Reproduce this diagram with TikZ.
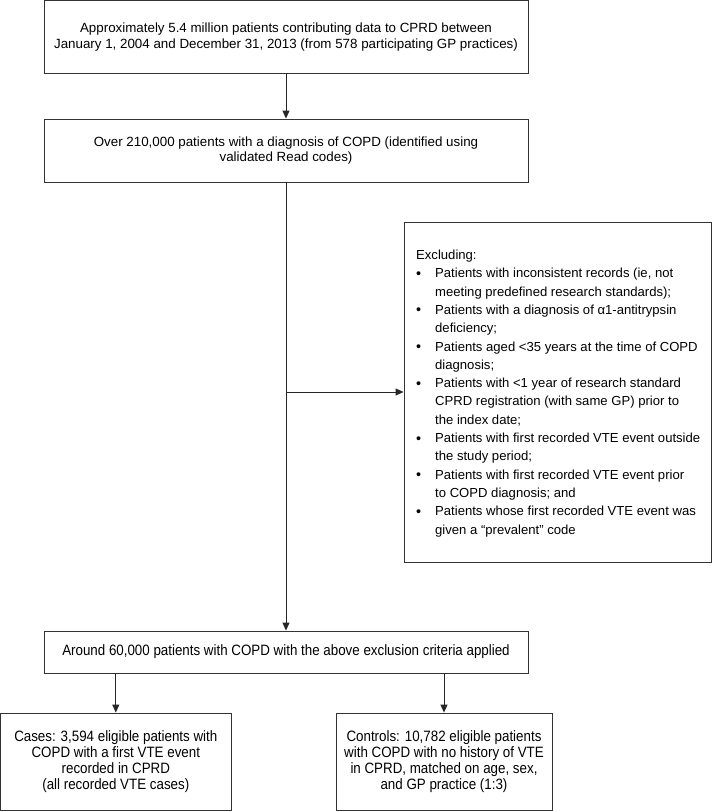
\documentclass[tikz,border=0pt]{standalone}
\usepackage{fontspec}
\setmainfont{Liberation Sans}
\newfontfamily\narrowfont[FakeStretch=0.89]{Liberation Sans}
\usetikzlibrary{arrows.meta}
\tikzset{
  box/.style={draw=black!80, line width=0.9pt, inner sep=0pt, align=center},
  arr/.style={draw=black!85, line width=0.9pt, -{Triangle[length=8pt,width=7pt]}},
  toptext/.style={font=\fontsize{13.35}{15.5}\selectfont},
  bottext/.style={font=\narrowfont\fontsize{15}{16}\selectfont},
}
\begin{document}
\begin{tikzpicture}[x=1pt,y=1pt]
\useasboundingbox (0,0) rectangle (712,-811);
% top boxes
\node[box, toptext, minimum width=484pt, minimum height=72.4pt] (b1) at (286,-36.8)
  {Approximately 5.4 million patients contributing data to CPRD between\\January 1, 2004 and December 31, 2013 (from 578 participating GP practices)};
\node[box, toptext, minimum width=484pt, minimum height=63pt] (b2) at (286,-150.5)
  {Over 210,000 patients with a diagnosis of COPD (identified using\\validated Read codes)};
% exclusion box
\node[draw=black!80, line width=0.9pt, minimum width=307pt, minimum height=340pt, inner sep=0pt] (ex) at (557.5,-392) {};
\node[anchor=north west, inner sep=0pt, font=\fontsize{13.1}{18.3}\selectfont] (extext) at (416,-246.5) {%
\begin{tabular}{@{}p{19pt}@{}l@{}}
\multicolumn{2}{@{}l}{Excluding:}\\
{\Large\raisebox{-0.5pt}{•}} & Patients with inconsistent records (ie, not\\
 & meeting predefined research standards);\\
{\Large\raisebox{-0.5pt}{•}} & Patients with a diagnosis of α1-antitrypsin\\
 & deficiency;\\
{\Large\raisebox{-0.5pt}{•}} & Patients aged <35 years at the time of COPD\\
 & diagnosis;\\
{\Large\raisebox{-0.5pt}{•}} & Patients with <1 year of research standard\\
 & CPRD registration (with same GP) prior to\\
 & the index date;\\
{\Large\raisebox{-0.5pt}{•}} & Patients with first recorded VTE event outside\\
 & the study period;\\
{\Large\raisebox{-0.5pt}{•}} & Patients with first recorded VTE event prior\\
 & to COPD diagnosis; and\\
{\Large\raisebox{-0.5pt}{•}} & Patients whose first recorded VTE event was\\
 & given a “prevalent” code
\end{tabular}};
% lower boxes
\node[box, bottext, minimum width=484pt, minimum height=42pt] (b3) at (286,-652)
  {Around 60,000 patients with COPD with the above exclusion criteria applied};
\node[box, bottext, minimum width=230.4pt, minimum height=97.4pt] (b4) at (115.8,-761.7)
  {Cases: 3,594 eligible patients with\\COPD with a first VTE event\\recorded in CPRD\\(all recorded VTE cases)};
\node[box, bottext, minimum width=216pt, minimum height=97.4pt] (b5) at (444,-761.7)
  {Controls: 10,782 eligible patients\\with COPD with no history of VTE\\in CPRD, matched on age, sex,\\and GP practice (1:3)};
% connectors
\draw[arr] (b1) -- (b2);
\draw[arr] (b2) -- (b3);
\coordinate (br) at (286,-392);
\draw[arr] (br) -- (ex.west |- br);
\draw[arr] (b4.north |- b3.south) -- (b4.north);
\draw[arr] (b5.north |- b3.south) -- (b5.north);
\end{tikzpicture}
\end{document}
